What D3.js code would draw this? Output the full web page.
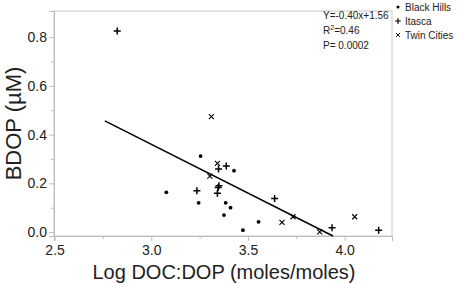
<html>
  <head>
    <meta charset="utf-8" />
    <script src="https://cdnjs.cloudflare.com/ajax/libs/d3/7.6.1/d3.min.js"></script>
    <style>
      body { margin: 0; background: #fff; }
      text { font-family: "Liberation Sans", Arial, Helvetica, sans-serif; fill: #222; }
      .axis path, .axis line { stroke: #bdbdbd; }
      .axis text { font-size: 14px; fill: #222; }
    </style>
  </head>
  <body>
    <svg width="459" height="283"></svg>
  </body>

  <script>
    // Log DOC:DOP vs BDOP
    const blackHillsX = [3.255, 3.428, 3.078, 3.245, 3.385, 3.410, 3.376, 3.555, 3.474];
    const blackHillsY = [0.312, 0.252, 0.163, 0.120, 0.120, 0.100, 0.070, 0.042, 0.008];
    const itascaX = [2.824, 3.348, 3.388, 3.350, 3.346, 3.342, 3.236, 3.638, 3.935, 4.176];
    const itascaY = [0.825, 0.259, 0.271, 0.190, 0.183, 0.159, 0.170, 0.138, 0.018, 0.008];
    const twinX = [3.311, 3.342, 3.303, 3.676, 3.733, 3.871, 4.052];
    const twinY = [0.474, 0.282, 0.230, 0.040, 0.063, 0.001, 0.063];

    const fitSlope = -0.40, fitIntercept = 1.56;
    const fitRange = [2.76, 3.94];
    // [main text, superscript, rest]
    const statLines = [["Y=-0.40x+1.56", "", ""], ["R", "2", "=0.46"], ["P= 0.0002", "", ""]];
    const legendNames = ["Black Hills", "Itasca", "Twin Cities"];
    const legendSymbols = ["dot", "plus", "cross"];

    const xTicks = [2.5, 3.0, 3.5, 4.0], xMinor = [2.75, 3.25, 3.75];
    const yTicks = [0.0, 0.2, 0.4, 0.6, 0.8], yMinor = [0.1, 0.3, 0.5, 0.7];

    let svg = d3.select("svg"),
      margin = { top: 11, right: 67, bottom: 47, left: 54 },
      width = +svg.attr("width") - margin.left - margin.right,
      height = +svg.attr("height") - margin.top - margin.bottom;

    let x = d3.scaleLinear().domain([2.497, 4.245]).range([0, width]),
      y = d3.scaleLinear().domain([-0.016, 0.907]).range([height, 0]);

    let g = svg.append("g").attr("transform", `translate(${margin.left},${margin.top})`);

    // frame
    g.append("rect")
      .attr("width", width).attr("height", height)
      .attr("fill", "none").attr("stroke", "#c8c8c8");

    // axes
    g.append("g").attr("class", "axis")
      .attr("transform", `translate(0,${height})`)
      .call(d3.axisBottom(x).tickValues(xMinor).tickSize(3).tickFormat(""))
      .call((a) => a.select(".domain").remove());
    g.append("g").attr("class", "axis")
      .attr("transform", `translate(0,${height})`)
      .call(d3.axisBottom(x).tickValues(xTicks).tickSize(5).tickPadding(4).tickFormat(d3.format(".1f")))
      .call((a) => a.select(".domain").attr("stroke", "#bdbdbd"));

    g.append("g").attr("class", "axis")
      .call(d3.axisLeft(y).tickValues(yMinor).tickSize(3).tickFormat(""))
      .call((a) => a.select(".domain").remove());
    g.append("g").attr("class", "axis")
      .call(d3.axisLeft(y).tickValues(yTicks).tickSize(5).tickPadding(2).tickFormat(d3.format(".1f")))
      .call((a) => a.select(".domain").attr("stroke", "#bdbdbd"));

    // axis titles
    svg.append("text")
      .attr("x", margin.left + width / 2 + 1)
      .attr("y", 279)
      .attr("text-anchor", "middle")
      .attr("font-size", 20)
      .text("Log DOC:DOP (moles/moles)");
    svg.append("text")
      .attr("transform", `translate(21,${margin.top + height / 2}) rotate(-90)`)
      .attr("text-anchor", "middle")
      .attr("font-size", 22)
      .text("BDOP (µM)");

    // regression line
    g.append("line")
      .attr("x1", x(fitRange[0])).attr("y1", y(fitSlope * fitRange[0] + fitIntercept))
      .attr("x2", x(fitRange[1])).attr("y2", y(fitSlope * fitRange[1] + fitIntercept))
      .attr("stroke", "#000").attr("stroke-width", 1.5);

    function drawSymbol(sel, kind) {
      if (kind === "dot") {
        sel.append("circle").attr("r", 1.9).attr("fill", "#000");
      } else if (kind === "plus") {
        sel.append("path").attr("d", "M-3.5,0H3.5M0,-3.5V3.5")
          .attr("stroke", "#000").attr("stroke-width", 1.5);
      } else {
        sel.append("path").attr("d", "M-2.5,-2.5L2.5,2.5M-2.5,2.5L2.5,-2.5")
          .attr("stroke", "#000").attr("stroke-width", 1.1);
      }
    }

    const series = [
      { xs: blackHillsX, ys: blackHillsY, kind: "dot" },
      { xs: itascaX, ys: itascaY, kind: "plus" },
      { xs: twinX, ys: twinY, kind: "cross" },
    ];
    series.forEach((s) => {
      const pts = s.xs.map((v, i) => [v, s.ys[i]]);
      g.selectAll(null)
        .data(pts)
        .enter()
        .append("g")
        .attr("transform", (d) => `translate(${x(d[0])},${y(d[1])})`)
        .each(function () { drawSymbol(d3.select(this), s.kind); });
    });

    // stats text
    const st = g.selectAll(".stat")
      .data(statLines)
      .enter()
      .append("text")
      .attr("class", "stat")
      .attr("x", width - 69)
      .attr("y", (d, i) => 8 + i * 15)
      .attr("font-size", 10);
    st.append("tspan").text((d) => d[0]);
    st.append("tspan").attr("dy", -4).attr("font-size", 7).text((d) => d[1]);
    st.append("tspan").attr("dy", (d) => (d[1] ? 4 : 0)).text((d) => d[2]);

    // legend
    const leg = svg.append("g").attr("transform", `translate(${margin.left + width + 6},7)`);
    legendNames.forEach((name, i) => {
      const row = leg.append("g").attr("transform", `translate(0,${i * 14})`);
      const sym = row.append("g").attr("transform", "scale(0.8)");
      drawSymbol(sym, legendSymbols[i]);
      row.append("text").attr("x", 7).attr("y", 4).attr("font-size", 10).text(name);
    });
  </script>
</html>
